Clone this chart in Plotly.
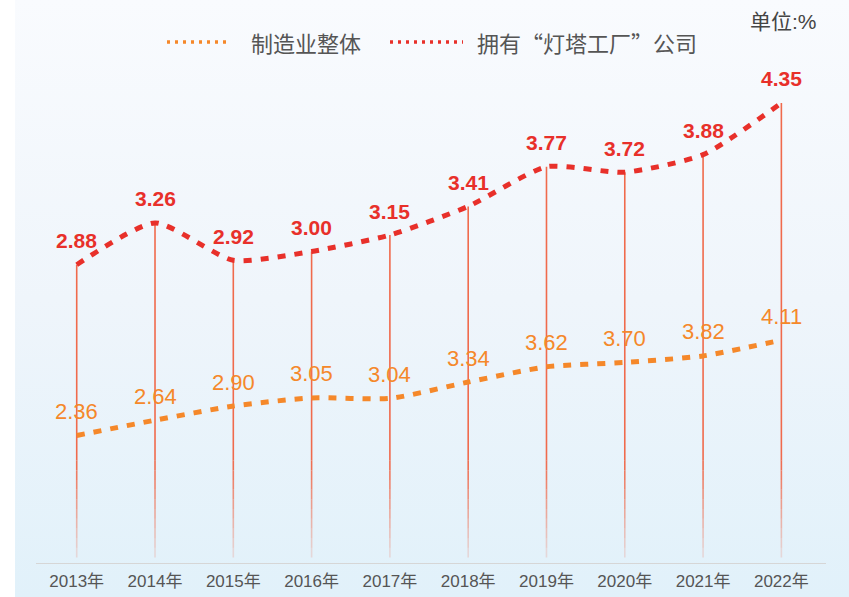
import base64
import plotly.graph_objects as go

years = ["2013年", "2014年", "2015年", "2016年", "2017年", "2018年", "2019年", "2020年", "2021年", "2022年"]
manufacturing = [2.36, 2.64, 2.90, 3.05, 3.04, 3.34, 3.62, 3.70, 3.82, 4.11]
lighthouse = [2.88, 3.26, 2.92, 3.00, 3.15, 3.41, 3.77, 3.72, 3.88, 4.35]
series_names = ["制造业整体", "拥有“灯塔工厂”公司"]
unit_label = "单位:%"

ORANGE = "#f5882a"
RED = "#e8302a"
STEM = "#f06a4c"
NUM_FONT = "Liberation Sans, Arial, sans-serif"
TXT_FONT = "Liberation Sans, Noto Sans CJK SC, sans-serif"
CJK_FONT = "Noto Sans CJK SC, sans-serif"
W, H = 849, 597

svg = (
    f"<svg xmlns='http://www.w3.org/2000/svg' width='{W}' height='{H}' preserveAspectRatio='none'>"
    "<defs><linearGradient id='g' x1='0' y1='0' x2='0' y2='1'>"
    "<stop offset='0' stop-color='#f9fbfe'/><stop offset='0.5' stop-color='#eff5fb'/>"
    "<stop offset='1' stop-color='#e1f1fa'/></linearGradient></defs>"
    f"<rect width='{W}' height='{H}' fill='url(#g)'/></svg>"
)
bg_src = "data:image/svg+xml;base64," + base64.b64encode(svg.encode()).decode()

fig = go.Figure()
fig.add_trace(go.Scatter(
    x=years, y=manufacturing, name=series_names[0], yaxis="y", mode="lines",
    line=dict(color=ORANGE, width=5, dash="8px,9px", shape="spline", smoothing=0.6),
    hoverinfo="x+y", showlegend=False,
))
fig.add_trace(go.Scatter(
    x=years, y=lighthouse, name=series_names[1], yaxis="y2", mode="lines",
    line=dict(color=RED, width=5, dash="8px,9px", shape="spline", smoothing=0.6),
    hoverinfo="x+y", showlegend=False,
))

shapes = []
# vertical stems from the red series value down to the base, fading near the bottom
fade_top, fade_bottom, steps = 1.1, 0.22, 10
for yr, v in zip(years, lighthouse):
    shapes.append(dict(type="line", xref="x", yref="y2", x0=yr, x1=yr, y0=v, y1=fade_top,
                       line=dict(color=STEM, width=1.6), layer="below"))
    for k in range(steps):
        a = fade_top - (fade_top - fade_bottom) * k / steps
        b = fade_top - (fade_top - fade_bottom) * (k + 1) / steps
        shapes.append(dict(type="line", xref="x", yref="y2", x0=yr, x1=yr, y0=a, y1=b,
                           line=dict(color=STEM, width=1.6), opacity=1 - 0.85 * (k + 0.5) / steps,
                           layer="below"))

# custom legend (dotted samples + labels)
leg_y = 1 - 42 / H
legend_items = [(series_names[0], ORANGE, 167, 228, 249), (series_names[1], RED, 390, 463, 475)]
annotations = []
for name, col, xa, xb, xt in legend_items:
    shapes.append(dict(type="line", xref="paper", yref="paper", x0=xa / W, x1=xb / W, y0=leg_y, y1=leg_y,
                       line=dict(color=col, width=3.5, dash="3px,5px")))
    annotations.append(dict(x=xt / W, y=leg_y, xref="paper", yref="paper", text=name, showarrow=False,
                            xanchor="left", yanchor="middle",
                            font=dict(family=CJK_FONT, size=22, color="#555")))

for yr, v in zip(years, manufacturing):
    annotations.append(dict(x=yr, y=v, xref="x", yref="y", text=f"{v:.2f}", showarrow=False,
                            yshift=24, font=dict(family=NUM_FONT, size=22, color=ORANGE)))
for yr, v in zip(years, lighthouse):
    annotations.append(dict(x=yr, y=v, xref="x", yref="y2", text=f"<b>{v:.2f}</b>", showarrow=False,
                            yshift=24, font=dict(family=NUM_FONT, size=21, color=RED)))
annotations.append(dict(x=819 / W, y=1 - 22 / H, xref="paper", yref="paper", text=unit_label,
                        showarrow=False, xanchor="right", yanchor="middle",
                        font=dict(family=TXT_FONT, size=21, color="#444")))

fig.update_layout(
    width=W, height=H,
    margin=dict(l=0, r=0, t=0, b=0),
    paper_bgcolor="white", plot_bgcolor="rgba(0,0,0,0)",
    images=[dict(source=bg_src, xref="paper", yref="paper", x=15 / W, y=1, sizex=1 - 15 / W, sizey=1,
                 xanchor="left", yanchor="top", sizing="stretch", layer="below")],
    xaxis=dict(type="category", domain=[36 / W, 826 / W], range=[-0.52, 9.57],
               showline=True, linecolor="#d6d6d6", linewidth=1, showgrid=False, zeroline=False,
               ticks="", ticklabelstandoff=3,
               tickfont=dict(family=TXT_FONT, size=17, color="#555"), anchor="y"),
    yaxis=dict(domain=[(H - 563) / H, (H - 60) / H], range=[0.02, 9.25], visible=False),
    yaxis2=dict(overlaying="y", range=[0.17, 4.74], visible=False),
    shapes=shapes,
    annotations=annotations,
    showlegend=False,
)

fig.write_html("out.html", config={"displayModeBar": False},
               post_script="document.body.style.margin='0px';document.body.style.overflow='hidden';")
